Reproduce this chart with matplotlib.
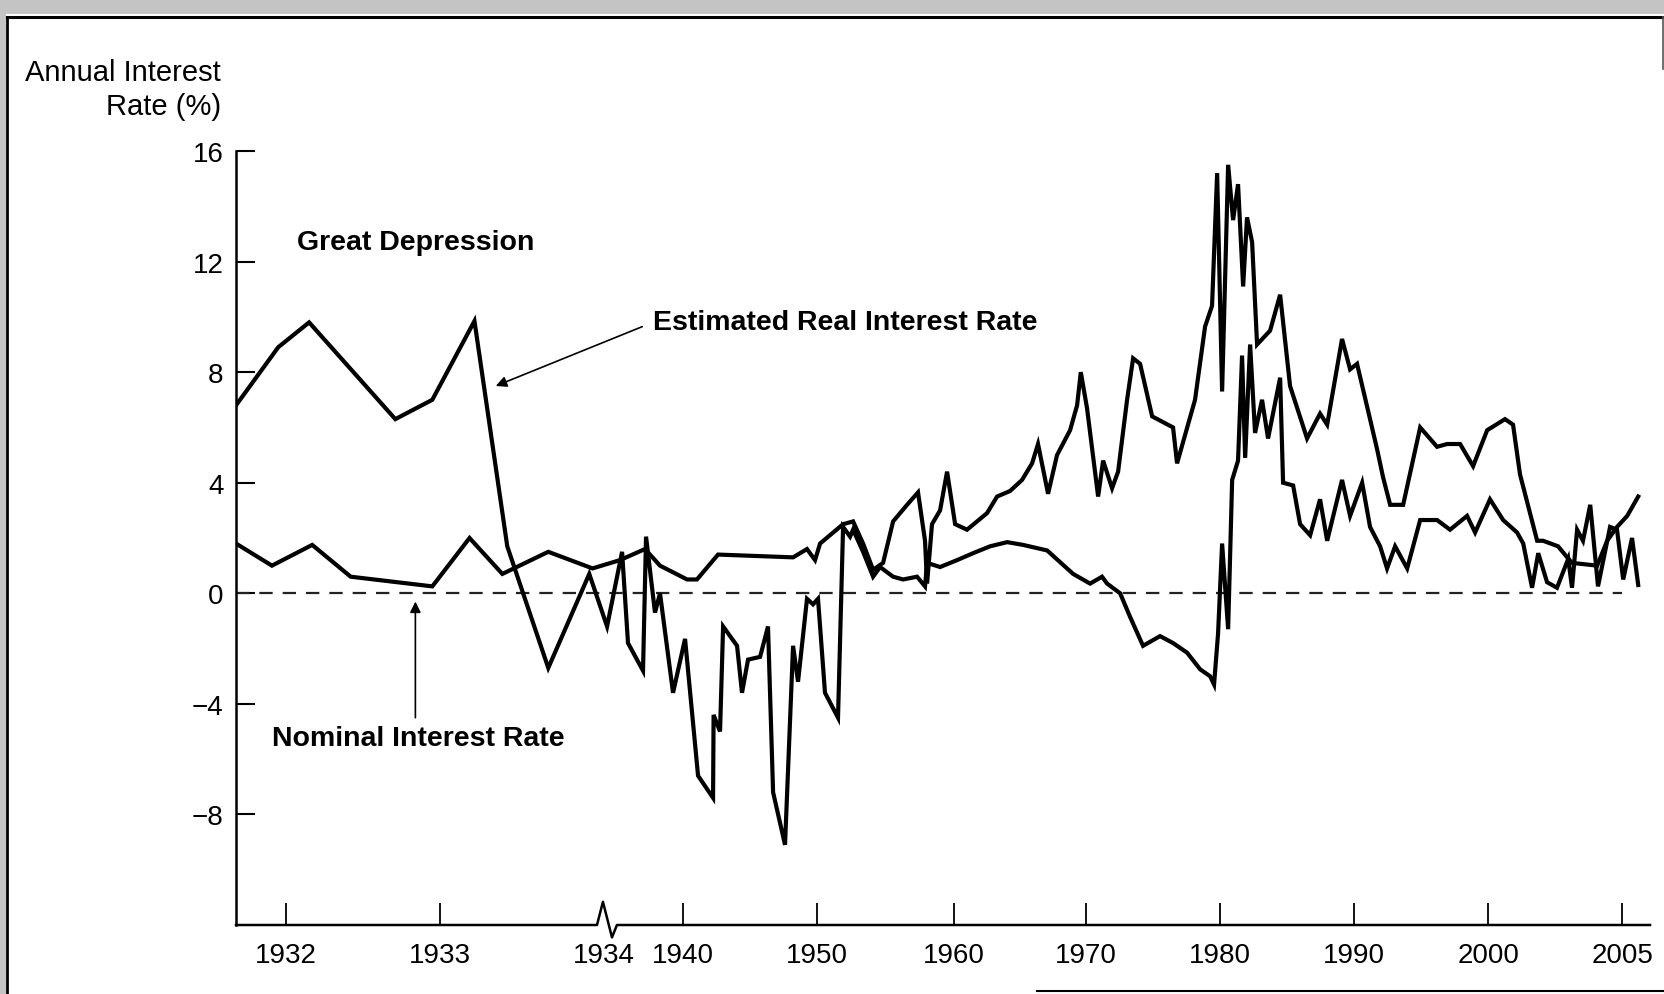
import numpy as np
import matplotlib
matplotlib.use('Agg')
import matplotlib.pyplot as plt
from matplotlib.patches import Rectangle
from matplotlib.lines import Line2D

plt.rcParams['font.family'] = ['Liberation Sans', 'DejaVu Sans']

# 实际利率
real_year = [1931.68, 1931.95, 1932.15, 1932.71, 1932.95, 1933.21, 1933.41, 1933.66, 1933.91, 1934.23,
             1935.37, 1935.82, 1936.96, 1937.19, 1937.87, 1938.25, 1939.24, 1940.15, 1941.12, 1942.24,
             1942.28, 1942.76, 1942.99, 1944.03, 1944.40, 1944.85, 1945.75, 1946.34, 1946.72, 1947.61,
             1948.21, 1948.58, 1949.25, 1949.70, 1950.07, 1950.58, 1951.53, 1951.90, 1952.41, 1952.63,
             1953.36, 1954.09, 1954.60, 1955.55, 1956.28, 1957.30, 1957.88, 1958.03, 1958.98, 1960.23,
             1961.44, 1962.73, 1964.02, 1965.23, 1967.05, 1969.02, 1970.30, 1971.19, 1971.57, 1972.54,
             1973.28, 1974.25, 1975.52, 1976.49, 1977.54, 1978.51, 1979.25, 1979.55, 1979.85, 1980.15,
             1980.60, 1980.90, 1981.34, 1981.64, 1981.87, 1982.24, 1982.61, 1983.13, 1983.58, 1984.48,
             1984.70, 1985.45, 1985.97, 1986.72, 1987.46, 1987.99, 1989.10, 1989.70, 1990.60, 1991.19,
             1991.94, 1992.46, 1993.06, 1993.96, 1994.93, 1996.19, 1997.16, 1998.43, 1999.03, 2000.07,
             2000.56, 2001.08, 2001.31, 2001.64, 2001.87, 2002.20, 2002.57, 2002.99, 2003.13, 2003.32,
             2003.54, 2003.81, 2004.10, 2004.55, 2004.81, 2005.04, 2005.37, 2005.60]
real_rate = [6.8, 8.9, 9.8, 6.3, 7.0, 9.85, 1.7, -2.7, 0.7, -1.2,
             1.5, -1.8, -2.8, 2.05, -0.7, 0.0, -3.6, -1.65, -6.6, -7.4,
             -4.4, -5.0, -1.2, -1.9, -3.6, -2.4, -2.3, -1.2, -7.2, -9.1,
             -1.9, -3.2, -0.2, -0.4, -0.2, -3.6, -4.5, 2.4, 2.05, 2.3,
             1.5, 0.6, 0.95, 0.6, 0.5, 0.6, 0.25, 1.1, 0.95, 1.2,
             1.45, 1.7, 1.85, 1.75, 1.55, 0.7, 0.35, 0.6, 0.35, 0.0,
             -0.85, -1.9, -1.55, -1.8, -2.15, -2.75, -3.0, -3.3, -1.45, 1.8,
             -1.3, 4.1, 4.8, 8.6, 4.9, 9.0, 5.8, 7.0, 5.6, 7.8,
             4.0, 3.9, 2.5, 2.1, 3.4, 1.9, 4.1, 2.8, 4.0, 2.4,
             1.7, 0.9, 1.7, 0.9, 2.65, 2.65, 2.3, 2.8, 2.2, 3.4,
             2.65, 2.2, 1.8, 0.2, 1.45, 0.4, 0.2, 1.25, 0.2, 2.3,
             1.9, 3.2, 0.25, 2.4, 2.3, 0.5, 2.0, 0.3]

# 名义利率
nom_year = [1931.68, 1931.91, 1932.17, 1932.42, 1932.95, 1933.18, 1933.38, 1933.66, 1933.93, 1935.21,
            1937.11, 1938.25, 1940.30, 1941.04, 1942.61, 1948.21, 1949.25, 1949.85, 1950.22, 1951.90,
            1952.63, 1953.36, 1954.09, 1954.82, 1955.55, 1956.57, 1957.37, 1957.88, 1958.03, 1958.39,
            1958.98, 1959.49, 1960.08, 1960.98, 1961.74, 1962.50, 1963.26, 1964.24, 1965.15, 1965.91,
            1966.36, 1967.12, 1967.80, 1968.79, 1969.32, 1969.60, 1970.07, 1970.90, 1971.27, 1971.94,
            1972.39, 1973.06, 1973.51, 1974.03, 1974.93, 1976.49, 1976.79, 1978.13, 1978.88, 1979.40,
            1979.78, 1980.15, 1980.60, 1980.97, 1981.34, 1981.72, 1982.01, 1982.39, 1982.76, 1983.73,
            1984.48, 1985.22, 1986.49, 1987.46, 1987.99, 1989.10, 1989.70, 1990.22, 1991.19, 1991.72,
            1992.16, 1992.69, 1993.66, 1994.93, 1996.19, 1996.94, 1997.91, 1998.88, 1999.93, 2000.63,
            2000.93, 2001.19, 2001.83, 2002.05, 2002.61, 2002.95, 2003.13, 2004.07, 2004.44, 2004.81,
            2005.19, 2005.60]
nom_rate = [1.8, 1.0, 1.75, 0.6, 0.25, 2.0, 0.7, 1.5, 0.9, 1.2,
            1.6, 1.0, 0.5, 0.5, 1.4, 1.3, 1.6, 1.2, 1.8, 2.5,
            2.6, 1.8, 0.85, 1.1, 2.6, 3.2, 3.65, 1.9, 0.35, 2.5,
            3.0, 4.4, 2.5, 2.3, 2.6, 2.9, 3.5, 3.7, 4.1, 4.7,
            5.4, 3.6, 5.0, 5.9, 6.8, 8.0, 6.7, 3.5, 4.8, 3.8,
            4.4, 7.0, 8.5, 8.3, 6.4, 6.0, 4.7, 7.0, 9.65, 10.4,
            15.2, 7.3, 15.5, 13.5, 14.8, 11.1, 13.6, 12.7, 9.0, 9.5,
            10.8, 7.5, 5.6, 6.5, 6.1, 9.2, 8.1, 8.3, 6.3, 5.2,
            4.2, 3.2, 3.2, 6.0, 5.3, 5.4, 5.4, 4.6, 5.9, 6.3,
            6.1, 4.3, 1.9, 1.9, 1.7, 1.3, 1.1, 1.0, 1.9, 2.4,
            2.8, 3.5]

x_ticks = [1932, 1933, 1934, 1940, 1950, 1960, 1970, 1980, 1990, 2000, 2005]
x_labels = ['1932', '1933', '1934', '1940', '1950', '1960', '1970', '1980', '1990', '2000', '2005']
y_ticks = [16, 12, 8, 4, 0, -4, -8]

# 断轴: 年份 -> 横向位置 (1932-1934 拉宽)
yr_anchor = [1900.0, 1931.68, 1932, 1933, 1934, 1940, 1950, 1960, 1970, 1980, 1990, 2000, 2005, 2100.0]
pos_anchor = [236 - 31.68 * 156, 236, 286, 440, 604, 683, 817, 954, 1086, 1220, 1354, 1488, 1622,
              1622 + 95 * 26.8]

def fwd(x):
    return np.interp(x, yr_anchor, pos_anchor)

def inv(p):
    return np.interp(p, pos_anchor, yr_anchor)

fig = plt.figure(figsize=(16.65, 9.95), dpi=100)
ax = fig.add_axes([236 / 1665, 1 - 926 / 995, (1650 - 236) / 1665, (926 - 152) / 995])
ax.set_xscale('function', functions=(fwd, inv))
ax.set_xlim(1931.68, 2006.04)
ax.set_ylim(-12, 16)

ax.plot([1931.68, 2005.0], [0, 0], color='#222222', lw=1.6, ls=(0, (6, 4.5)))
ax.plot(real_year, real_rate, color='black', lw=3.0, solid_joinstyle='miter')
ax.plot(nom_year, nom_rate, color='black', lw=3.0, solid_joinstyle='miter')

for s in ['top', 'right', 'bottom']:
    ax.spines[s].set_visible(False)
ax.spines['left'].set_linewidth(1.8)

# 底轴 + 断轴符号
ax.plot([0, 0.2553, 0.2595, 0.2659, 0.2694, 1.0], [0, 0, 0.03, -0.016, 0, 0],
        transform=ax.transAxes, color='black', lw=1.8, clip_on=False)

ax.set_xticks(x_ticks)
ax.set_xticklabels(x_labels)
ax.xaxis.set_minor_locator(matplotlib.ticker.NullLocator())
ax.set_yticks(y_ticks)
ax.set_yticklabels([str(v).replace('-', '\u2212') for v in y_ticks])
ax.tick_params(axis='x', direction='in', length=16, width=1.3, pad=12, labelsize=20)
ax.tick_params(axis='y', direction='in', length=14, width=1.5, pad=9, labelsize=20)
ax.xaxis.get_major_ticks()[2].tick1line.set_visible(False)

fig.text(0.1327, 0.9095, 'Annual Interest\nRate (%)', ha='right', va='center',
         multialignment='right', fontsize=21, linespacing=1.25)

ax.text(1932.84, 12.7, 'Great Depression', ha='center', va='center', fontsize=20.5, fontweight='bold')
ax.annotate('Estimated Real Interest Rate', xy=(1933.34, 7.5), xytext=(1937.7, 9.8),
            ha='left', va='center', fontsize=20.5, fontweight='bold',
            arrowprops=dict(arrowstyle='-|>', lw=1.2, color='black', mutation_scale=16,
                            relpos=(0, 0.5), shrinkA=6, shrinkB=0))
ax.annotate('', xy=(1932.84, -0.3), xytext=(1932.84, -4.5),
            arrowprops=dict(arrowstyle='-|>', lw=1.2, color='black', mutation_scale=16,
                            shrinkA=0, shrinkB=0))
ax.text(1932.86, -5.25, 'Nominal Interest Rate', ha='center', va='center', fontsize=20.5, fontweight='bold')

# 扫描页边框
fig.add_artist(Rectangle((0, 1 - 15 / 995), 1, 15 / 995, transform=fig.transFigure,
                         facecolor='#c4c4c4', edgecolor='none', hatch='....'))
fig.add_artist(Rectangle((0, 0), 6 / 1665, 1, transform=fig.transFigure,
                         facecolor='#c4c4c4', edgecolor='none', hatch='....'))
fig.add_artist(Line2D([7 / 1665, 1], [1 - 18 / 995, 1 - 18 / 995], transform=fig.transFigure,
                      color='black', lw=2.2))
fig.add_artist(Line2D([7 / 1665, 7 / 1665], [0, 1 - 18 / 995], transform=fig.transFigure,
                      color='black', lw=2.0))
fig.add_artist(Line2D([1663 / 1665, 1663 / 1665], [1 - 70 / 995, 1 - 18 / 995], transform=fig.transFigure,
                      color='#555555', lw=1.2))
fig.add_artist(Line2D([1037 / 1665, 1], [3 / 995, 3 / 995], transform=fig.transFigure,
                      color='black', lw=1.5))

fig.savefig('out.png', dpi=100)
